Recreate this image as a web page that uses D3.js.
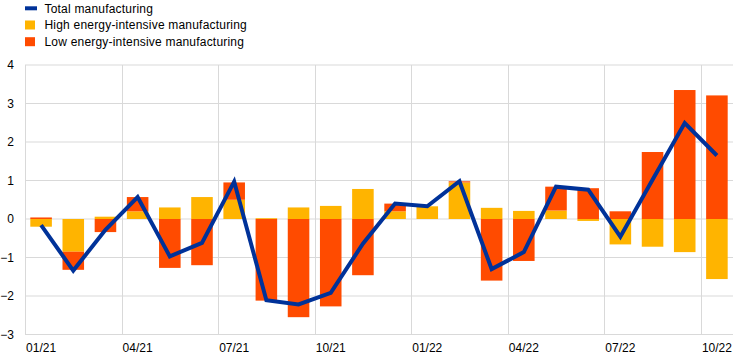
<!DOCTYPE html>
<html>
<head>
<meta charset="utf-8">
<script src="https://cdn.jsdelivr.net/npm/d3@7"></script>
<style>
  body { margin: 0; background: #fff; }
  svg { display: block; font-family: "Liberation Sans", Arial, sans-serif; }
</style>
</head>
<body>
<svg></svg>
<script>
const months = ["01/21","02/21","03/21","04/21","05/21","06/21","07/21","08/21","09/21","10/21","11/21","12/21",
                "01/22","02/22","03/22","04/22","05/22","06/22","07/22","08/22","09/22","10/22"];
const highEnergy = [-0.20,-0.85,0.06,0.20,0.30,0.57,0.50,0.02,0.30,0.34,0.78,0.20,
                    0.33,0.95,0.29,0.21,0.22,-0.05,-0.66,-0.72,-0.86,-1.56];
const lowEnergy  = [0.04,-0.47,-0.34,0.37,-1.27,-1.20,0.45,-2.12,-2.55,-2.27,-1.46,0.20,
                    0.00,0.03,-1.60,-1.09,0.62,0.80,0.20,1.74,3.35,3.21];
const total      = [-0.16,-1.34,-0.28,0.57,-0.97,-0.62,0.97,-2.11,-2.22,-1.92,-0.64,0.40,
                    0.33,0.98,-1.30,-0.86,0.84,0.76,-0.46,1.02,2.49,1.65];
const yTicks = [-3,-2,-1,0,1,2,3,4];
const xLabels = ["01/21","04/21","07/21","10/21","01/22","04/22","07/22","10/22"];

const width = 744, height = 362;
const marginTop = 65, marginRight = 11, marginBottom = 27.5, marginLeft = 25;
const colors = { high: "#FFB400", low: "#FF4B00", total: "#003299" };

const data = months.map((m, i) => ({ month: m, high: highEnergy[i], low: lowEnergy[i], total: total[i] }));

const series = d3.stack()
  .keys(["high", "low"])
  .offset(d3.stackOffsetDiverging)(data);

const x = d3.scaleBand()
  .domain(months)
  .range([marginLeft, width - marginRight])
  .paddingInner(0.33)
  .paddingOuter(0.165);

const y = d3.scaleLinear()
  .domain([-3, 4])
  .range([height - marginBottom, marginTop]);

const svg = d3.select("svg")
  .attr("width", width)
  .attr("height", height)
  .attr("viewBox", [0, 0, width, height]);

const gap = (x.step() - x.bandwidth()) / 2;

// horizontal grid
svg.append("g")
  .selectAll("line")
  .data(yTicks)
  .join("line")
  .attr("x1", marginLeft)
  .attr("x2", width - marginRight)
  .attr("y1", d => y(d))
  .attr("y2", d => y(d))
  .attr("stroke", "#d9d9d9")
  .attr("stroke-width", 1);

// vertical grid every quarter
svg.append("g")
  .selectAll("line")
  .data(xLabels)
  .join("line")
  .attr("x1", d => Math.round(x(d) - gap) + 0.5)
  .attr("x2", d => Math.round(x(d) - gap) + 0.5)
  .attr("y1", y(4))
  .attr("y2", y(-3))
  .attr("stroke", "#d9d9d9")
  .attr("stroke-width", 1);

// stacked bars
svg.append("g")
  .selectAll("g")
  .data(series)
  .join("g")
  .attr("fill", d => colors[d.key])
  .selectAll("rect")
  .data(d => d)
  .join("rect")
  .attr("x", d => x(d.data.month))
  .attr("width", x.bandwidth())
  .attr("y", d => y(Math.max(d[0], d[1])))
  .attr("height", d => Math.abs(y(d[0]) - y(d[1])));

// total line
const line = d3.line()
  .x(d => x(d.month) + x.bandwidth() / 2)
  .y(d => y(d.total));

svg.append("path")
  .datum(data)
  .attr("fill", "none")
  .attr("stroke", colors.total)
  .attr("stroke-width", 4)
  .attr("stroke-linejoin", "miter")
  .attr("d", line);

// y axis
svg.append("g")
  .attr("transform", `translate(${marginLeft},0)`)
  .call(d3.axisLeft(y).tickValues(yTicks).tickSize(0).tickPadding(11).tickFormat(d3.format("d")))
  .call(g => g.select(".domain").remove())
  .call(g => g.selectAll("text").attr("fill", "#000").style("font-size", "12px")
    .style("font-family", "'Liberation Sans', Arial, sans-serif"));

// x axis
svg.append("g")
  .attr("transform", `translate(0,${y(-3)})`)
  .call(d3.axisBottom(x).tickValues(xLabels).tickSize(0).tickPadding(9))
  .call(g => g.select(".domain").remove())
  .call(g => g.selectAll("text").attr("fill", "#000").style("font-size", "12px")
    .style("font-family", "'Liberation Sans', Arial, sans-serif"));

// legend
const legendItems = [
  { label: "Total manufacturing", key: "total", type: "line" },
  { label: "High energy-intensive manufacturing", key: "high", type: "box" },
  { label: "Low energy-intensive manufacturing", key: "low", type: "box" }
];
const legend = svg.append("g").attr("transform", "translate(25,0)");
const item = legend.selectAll("g")
  .data(legendItems)
  .join("g")
  .attr("transform", (d, i) => `translate(0,${8.3 + i * 16.7})`);
item.filter(d => d.type === "line").append("rect")
  .attr("x", 0).attr("y", -2).attr("width", 12).attr("height", 4)
  .attr("fill", d => colors[d.key]);
item.filter(d => d.type === "box").append("rect")
  .attr("x", 0).attr("y", -4.5).attr("width", 10).attr("height", 9)
  .attr("fill", d => colors[d.key]);
item.append("text")
  .attr("x", 19.5)
  .attr("dy", "0.35em")
  .attr("fill", "#000")
  .style("font-size", "12px")
  .style("letter-spacing", "0.2px")
  .text(d => d.label);
</script>
</body>
</html>
